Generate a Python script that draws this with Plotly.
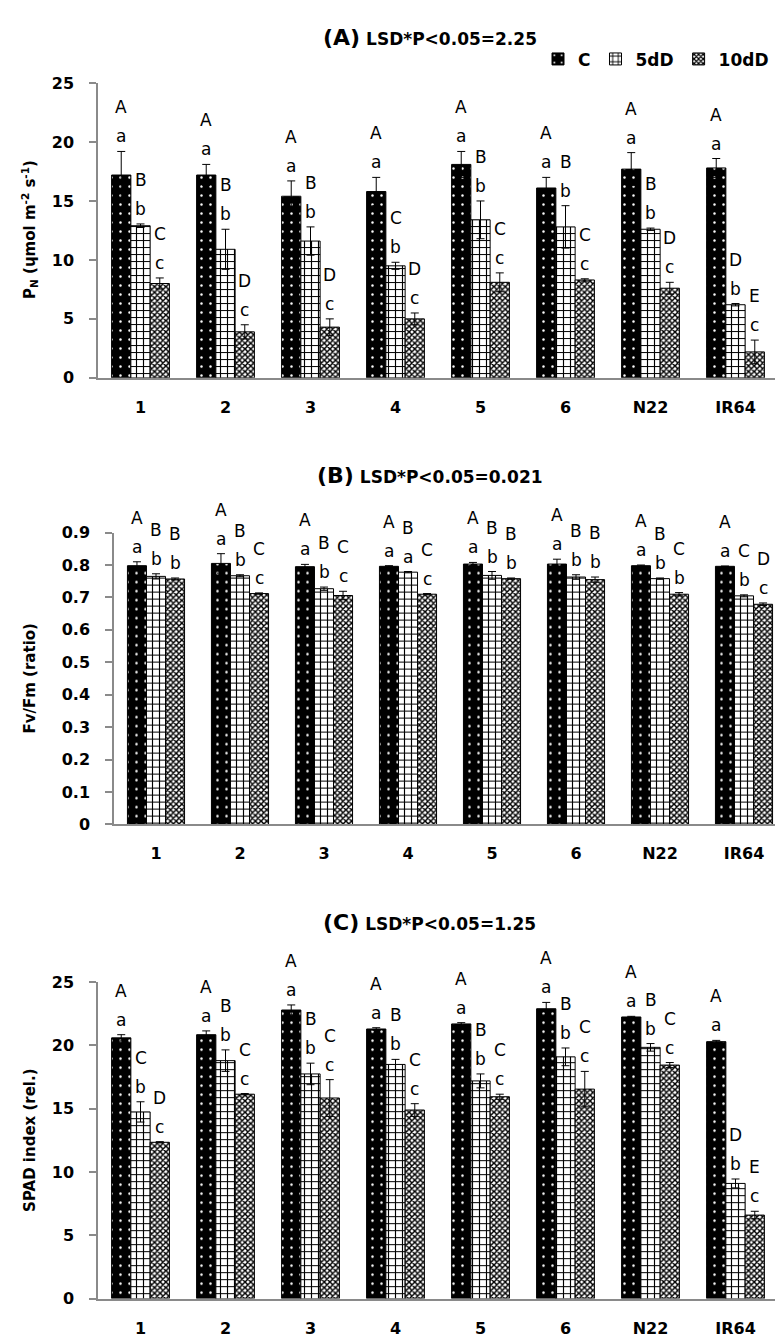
import plotly.graph_objects as go

W, H = 783, 1344

genotypes = ["1", "2", "3", "4", "5", "6", "N22", "IR64"]
treatments = ["C", "5dD", "10dD"]

# Panel A: P_N
pn_C = [17.2, 17.2, 15.4, 15.8, 18.1, 16.1, 17.7, 17.8]
pn_C_err = [2.0, 0.9, 1.3, 1.2, 1.1, 0.9, 1.4, 0.8]
pn_5 = [12.9, 10.9, 11.6, 9.5, 13.4, 12.8, 12.6, 6.2]
pn_5_err = [0.15, 1.7, 1.2, 0.3, 1.6, 1.8, 0.1, 0.1]
pn_10 = [8.0, 3.9, 4.3, 5.0, 8.1, 8.3, 7.6, 2.2]
pn_10_err = [0.47, 0.6, 0.7, 0.5, 0.8, 0.1, 0.5, 1.0]
pn_C_up = ["A"] * 8
pn_C_lo = ["a"] * 8
pn_5_up = ["B", "B", "B", "C", "B", "B", "B", "D"]
pn_5_lo = ["b"] * 8
pn_10_up = ["C", "D", "D", "D", "C", "C", "D", "E"]
pn_10_lo = ["c"] * 8

# Panel B: Fv/Fm
fv_C = [0.798, 0.805, 0.795, 0.796, 0.803, 0.803, 0.798, 0.796]
fv_C_err = [0.012, 0.030, 0.007, 0.002, 0.005, 0.015, 0.002, 0.001]
fv_5 = [0.765, 0.767, 0.727, 0.778, 0.768, 0.763, 0.758, 0.705]
fv_5_err = [0.008, 0.003, 0.005, 0.002, 0.012, 0.007, 0.002, 0.003]
fv_10 = [0.757, 0.712, 0.706, 0.710, 0.758, 0.755, 0.710, 0.679]
fv_10_err = [0.003, 0.002, 0.013, 0.002, 0.002, 0.008, 0.005, 0.004]
fv_C_up = ["A"] * 8
fv_C_lo = ["a"] * 8
fv_5_up = ["B", "B", "B", "B", "B", "B", "B", "C"]
fv_5_lo = ["b", "b", "b", "a", "b", "b", "b", "b"]
fv_10_up = ["B", "C", "C", "C", "B", "B", "C", "D"]
fv_10_lo = ["b", "c", "c", "c", "b", "b", "b", "c"]

# Panel C: SPAD
sp_C = [20.6, 20.85, 22.8, 21.3, 21.7, 22.9, 22.25, 20.3]
sp_C_err = [0.25, 0.3, 0.4, 0.1, 0.1, 0.5, 0.05, 0.1]
sp_5 = [14.75, 18.8, 17.75, 18.5, 17.2, 19.1, 19.85, 9.1]
sp_5_err = [0.8, 0.85, 0.85, 0.4, 0.55, 0.7, 0.3, 0.35]
sp_10 = [12.35, 16.15, 15.85, 14.9, 15.95, 16.55, 18.45, 6.6]
sp_10_err = [0.05, 0.05, 1.45, 0.5, 0.2, 1.4, 0.2, 0.3]
sp_C_up = ["A"] * 8
sp_C_lo = ["a"] * 8
sp_5_up = ["C", "B", "B", "B", "B", "B", "B", "D"]
sp_5_lo = ["b"] * 8
sp_10_up = ["D", "C", "C", "C", "C", "C", "C", "E"]
sp_10_lo = ["c"] * 8

panels = [
    dict(vals=[pn_C, pn_5, pn_10], errs=[pn_C_err, pn_5_err, pn_10_err],
         up=[pn_C_up, pn_5_up, pn_10_up], lo=[pn_C_lo, pn_5_lo, pn_10_lo],
         yrange=[0, 25], dtick=5, tickformat="d",
         ypix=(67, 366), xpix=(90, 770),
         ytitle="P<sub>N</sub> (ɥmol m<sup>-2</sup> s<sup>-1</sup>)", ytitle_y=216,
         title="(A)", lsd="LSD*P&lt;0.05=2.25", title_xy=(422, 21)),
    dict(vals=[fv_C, fv_5, fv_10], errs=[fv_C_err, fv_5_err, fv_10_err],
         up=[fv_C_up, fv_5_up, fv_10_up], lo=[fv_C_lo, fv_5_lo, fv_10_lo],
         yrange=[0, 0.9], dtick=0.1, tickformat=None,
         ypix=(523, 819), xpix=(106, 778),
         ytitle="Fv/Fm (ratio)", ytitle_y=671,
         title="(B)", lsd="LSD*P&lt;0.05=0.021", title_xy=(422, 465)),
    dict(vals=[sp_C, sp_5, sp_10], errs=[sp_C_err, sp_5_err, sp_10_err],
         up=[sp_C_up, sp_5_up, sp_10_up], lo=[sp_C_lo, sp_5_lo, sp_10_lo],
         yrange=[0, 25], dtick=5, tickformat="d",
         ypix=(979, 1300), xpix=(90, 770),
         ytitle="SPAD index (rel.)", ytitle_y=1140,
         title="(C)", lsd="LSD*P&lt;0.05=1.25", title_xy=(422, 918)),
]

patterns = [
    dict(shape=".", bgcolor="black", fgcolor="white", size=9, solidity=0.06, fillmode="replace"),
    dict(shape="+", bgcolor="white", fgcolor="black", size=7, solidity=0.3, fillmode="replace"),
    dict(shape="x", bgcolor="white", fgcolor="black", size=4, solidity=0.6, fillmode="replace"),
]

BARGAP = 0.32
bw = (1 - BARGAP) / 3

fig = go.Figure()
annotations = []
AX_COLOR = "#8a8a8a"
FONT = "DejaVu Sans"

for k, p in enumerate(panels, start=1):
    xa = "x" if k == 1 else f"x{k}"
    ya = "y" if k == 1 else f"y{k}"
    for j, name in enumerate(treatments):
        fig.add_trace(go.Bar(
            x=genotypes, y=p["vals"][j], name=name,
            xaxis=xa, yaxis=ya,
            legendgroup=name, showlegend=(k == 1),
            marker=dict(color="white", line=dict(color="black", width=1),
                        pattern=patterns[j]),
            error_y=dict(type="data", array=p["errs"][j], symmetric=True,
                         color="black", thickness=1, width=4),
        ))
        for i in range(len(genotypes)):
            top = p["vals"][j][i] + p["errs"][j][i]
            xpos = i + (j - 1) * bw
            annotations.append(dict(x=xpos, y=top, xref=xa, yref=ya,
                                    text=p["lo"][j][i], showarrow=False,
                                    yanchor="middle", yshift=15,
                                    font=dict(family=FONT, size=17, color="black")))
            annotations.append(dict(x=xpos, y=top, xref=xa, yref=ya,
                                    text=p["up"][j][i], showarrow=False,
                                    yanchor="middle", yshift=44,
                                    font=dict(family=FONT, size=17, color="black")))
    y0, y1 = p["ypix"]
    x0, x1 = p["xpix"]
    axis_key = "xaxis" if k == 1 else f"xaxis{k}"
    yaxis_key = "yaxis" if k == 1 else f"yaxis{k}"
    fig.update_layout(**{
        axis_key: dict(domain=[x0 / W, x1 / W], anchor=ya, type="category",
                       range=[-0.5, len(genotypes) - 0.5],
                       showline=True, linecolor=AX_COLOR, linewidth=1.5,
                       ticks="", showgrid=False, zeroline=False,
                       tickfont=dict(family=FONT, size=16, color="black", weight="bold"),
                       ticklabelstandoff=14),
        yaxis_key: dict(domain=[1 - y1 / H, 1 - y0 / H], anchor=xa,
                        range=p["yrange"], dtick=p["dtick"], tick0=0,
                        tickformat=p["tickformat"],
                        showline=True, linecolor=AX_COLOR, linewidth=1.5,
                        ticks="outside", ticklen=7, tickcolor=AX_COLOR, tickwidth=1.5,
                        showgrid=False, zeroline=False,
                        tickfont=dict(family=FONT, size=16, color="black", weight="bold"),
                        ticklabelstandoff=12),
    })
    annotations.append(dict(x=22 / W, y=1 - p["ytitle_y"] / H, xref="paper", yref="paper",
                            text=f"<b>{p['ytitle']}</b>", showarrow=False, textangle=-90,
                            xanchor="center", yanchor="middle",
                            font=dict(family=FONT, size=15, color="black")))
    tx, ty = p["title_xy"]
    annotations.append(dict(x=tx / W, y=1 - ty / H, xref="paper", yref="paper",
                            text=f"<b><span style='font-size:22px'>{p['title']}</span> {p['lsd']}</b>",
                            showarrow=False, xanchor="center", yanchor="middle",
                            font=dict(family=FONT, size=17, color="black")))

fig.update_layout(
    width=W, height=H,
    margin=dict(l=0, r=0, t=0, b=0),
    paper_bgcolor="white", plot_bgcolor="white",
    barmode="group", bargap=BARGAP, bargroupgap=0,
    annotations=annotations,
    legend=dict(orientation="h", x=530 / W, xanchor="left", y=1 - 43 / H, yanchor="middle",
                font=dict(family=FONT, size=17, color="black", weight="bold"),
                bgcolor="rgba(0,0,0,0)", traceorder="normal"),
    font=dict(family=FONT),
)

fig.write_html("out.html")
